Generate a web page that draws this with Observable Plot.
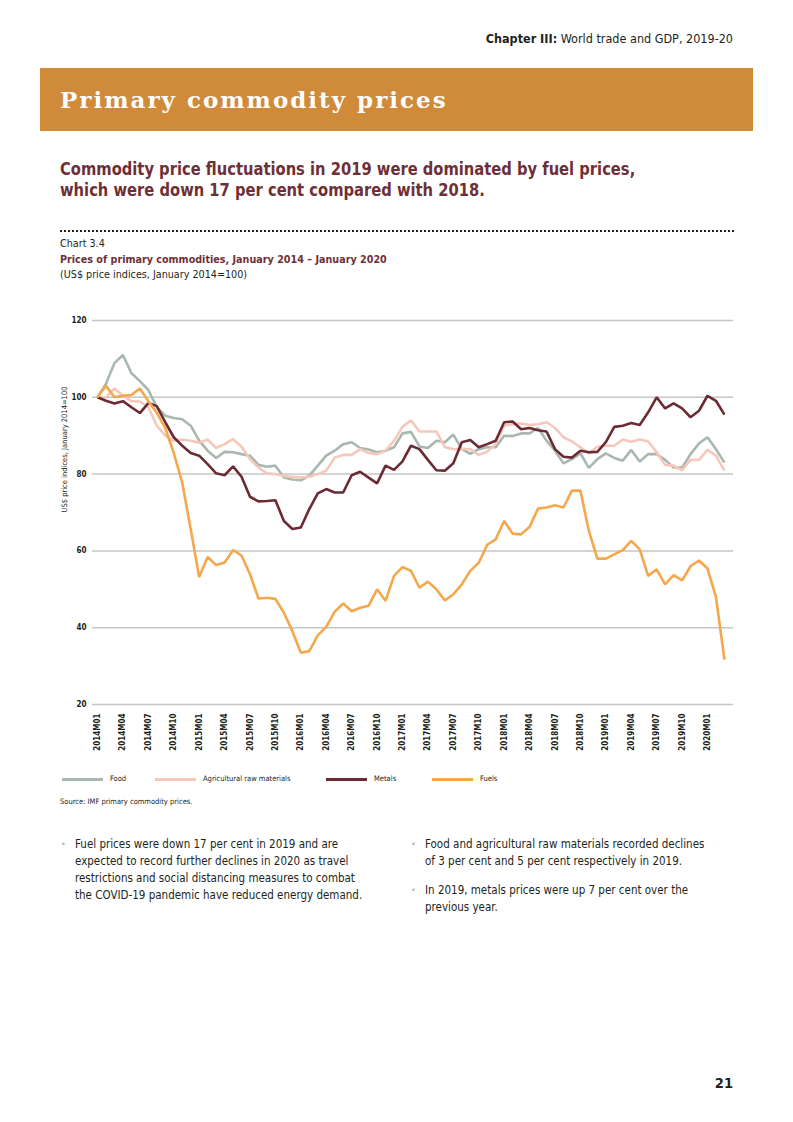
<!DOCTYPE html>
<html>
<head>
<meta charset="utf-8">
<script src="https://cdn.jsdelivr.net/npm/d3@7"></script>
<script src="https://cdn.jsdelivr.net/npm/@observablehq/plot@0.6"></script>
<style>
  body { margin: 0; background: #fff; }
  #page { position: relative; width: 793px; height: 1122px; overflow: hidden;
    font-family: "Liberation Sans Narrow", "DejaVu Sans Condensed", "Liberation Sans", sans-serif; color: #231f20; }
  .abs { position: absolute; white-space: nowrap; }
  #header { top: 31px; right: 60px; font-size: 12.5px; line-height: 16px; }
  #banner { left: 40px; top: 68px; width: 713px; height: 63px; background: #cf8a3a; }
  #banner span { position: absolute; left: 20px; top: 0; line-height: 63px; color: #fff;
    font-family: "DejaVu Serif", serif; font-weight: bold; font-size: 23px; letter-spacing: 2px; }
  #subtitle { left: 60px; top: 158px; font-size: 18.5px; line-height: 21px; font-weight: bold; color: #6e2f37;
    transform: scaleX(0.885); transform-origin: left top; }
  #dots { left: 60px; top: 230px; width: 674px; border-top: 2.5px dotted #231f20; }
  .ct { left: 60px; font-size: 10.7px; line-height: 15px; }
  #chartno { top: 236px; }
  #charttitle { top: 252px; font-weight: bold; color: #6e2f37; }
  #chartunit { top: 267px; }
  #chart { left: 40px; top: 300px; }
  #legend { left: 0; top: 772px; width: 793px; height: 14px; font-size: 7.5px; }
  .lg { position: absolute; top: 0; height: 14px; line-height: 14px; white-space: nowrap; }
  .sw { position: absolute; top: 5.5px; height: 3px; width: 41px; }
  #source { left: 60px; top: 796px; font-size: 7.5px; line-height: 12px; }
  .col { font-size: 11.5px; line-height: 17px; color: #231f20; }
  .col p { margin: 0 0 12px 0; position: relative; padding-left: 14px; }
  .col p::before { content: "•"; position: absolute; left: 0; top: 0; color: #b5b5b5; font-size: 9px; }
  #colL { left: 61px; top: 836px; }
  #colR { left: 411px; top: 836px; }
  #pagenum { right: 60px; top: 1074px; font-size: 14.5px; font-weight: bold; line-height: 18px; }
</style>
</head>
<body>
<div id="page">
  <div id="header" class="abs"><b>Chapter III:</b> World trade and GDP, 2019-20</div>
  <div id="banner" class="abs"><span>Primary commodity prices</span></div>
  <div id="subtitle" class="abs">Commodity price fluctuations in 2019 were dominated by fuel prices,<br>which were down 17 per cent compared with 2018.</div>
  <div id="dots" class="abs"></div>
  <div id="chartno" class="abs ct">Chart 3.4</div>
  <div id="charttitle" class="abs ct">Prices of primary commodities, January 2014 – January 2020</div>
  <div id="chartunit" class="abs ct">(US$ price indices, January 2014=100)</div>
  <div id="chart" class="abs"></div>
  <div id="legend" class="abs"></div>
  <div id="source" class="abs">Source: IMF primary commodity prices.</div>
  <div id="colL" class="abs col">
    <p>Fuel prices were down 17 per cent in 2019 and are<br>expected to record further declines in 2020 as travel<br>restrictions and social distancing measures to combat<br>the COVID-19 pandemic have reduced energy demand.</p>
  </div>
  <div id="colR" class="abs col">
    <p>Food and agricultural raw materials recorded declines<br>of 3 per cent and 5 per cent respectively in 2019.</p>
    <p>In 2019, metals prices were up 7 per cent over the<br>previous year.</p>
  </div>
  <div id="pagenum" class="abs">21</div>
</div>
<script>
// ---- Data (US$ price indices, January 2014 = 100), monthly 2014M01 – 2020M03 ----
const years = [2014, 2015, 2016, 2017, 2018, 2019, 2020];
const monthCodes = ["01","02","03","04","05","06","07","08","09","10","11","12"];
const months = [];
for (const y of years) for (const m of monthCodes) months.push(`${y}M${m}`);
months.length = 75; // through 2020M03

const tickLabels = ["2014M01","2014M04","2014M07","2014M10","2015M01","2015M04","2015M07","2015M10",
  "2016M01","2016M04","2016M07","2016M10","2017M01","2017M04","2017M07","2017M10",
  "2018M01","2018M04","2018M07","2018M10","2019M01","2019M04","2019M07","2019M10","2020M01"];
const yTicks = [20, 40, 60, 80, 100, 120];

const seriesNames = ["Food", "Agricultural raw materials", "Metals", "Fuels"];
const seriesColors = ["#a8b8af", "#f5c8ba", "#6c2b34", "#f5a74c"];

const food = [100, 103.5, 108.9, 111, 106.3, 104.2, 101.9, 97.4, 95.2, 94.6, 94.3, 92.6, 88.7, 86.1, 84.2, 85.8, 85.7, 85.2, 84.8, 82.4, 81.9, 82.2, 79.1, 78.6, 78.4, 79.6,
  82.2, 84.8, 86.1, 87.8, 88.3, 86.8, 86.4, 85.7, 86.1, 87, 90.6, 91, 87.2, 86.8, 88.7, 88.3, 90.3, 86.5, 85.3, 86.5, 87, 87, 90, 89.9, 90.6,
  90.6, 92, 88.7, 86.1, 82.8, 83.9, 85.4, 81.6, 83.9, 85.4, 84.2, 83.5, 86.3, 83.3, 85.2, 85.2, 83.7, 81.7, 81.7, 85.2, 88, 89.6, 86.5, 83];
const agri = [100, 100, 102.3, 100.4, 99, 98.9, 97.4, 92.6, 90, 88.7, 89, 88.7, 88.2, 89, 86.8, 87.8, 89.1, 87.1, 83.9, 81.7, 80.2, 80, 79.5, 79.3, 79.1, 79.3,
  80, 80.9, 84.3, 85, 85, 86.5, 85.5, 85.2, 86.1, 88.7, 92.3, 94, 91.1, 91.1, 91.1, 87, 86.5, 86.5, 86.5, 85, 85.8, 87.8, 92.6, 93, 93.2,
  92.8, 93, 93.5, 92, 89.6, 88.5, 87, 85.4, 87.1, 87.4, 87.4, 89, 88.4, 89, 88.5, 85.7, 82.4, 82.2, 81, 83.7, 83.7, 86.3, 84.8, 80.9];
const metals = [100, 99.1, 98.4, 99, 97.4, 95.9, 98.5, 97.7, 93.5, 89.6, 87.4, 85.5, 84.8, 82.6, 80.2, 79.7, 82, 79.3, 74.1, 72.9, 73, 73.2, 67.8, 65.7, 66.1, 70.9,
  75, 76.1, 75.2, 75.2, 79.7, 80.6, 79.1, 77.6, 82.2, 81.1, 83.3, 87.4, 86.5, 83.7, 81, 80.9, 82.8, 88.3, 88.9, 87, 87.8, 88.7, 93.5, 93.7, 91.7,
  92, 91.4, 91.1, 86.5, 84.5, 84.3, 86.1, 85.7, 85.8, 88.3, 92.3, 92.6, 93.3, 92.8, 96.1, 100, 97.1, 98.4, 97.1, 94.8, 96.5, 100.4, 99.1, 95.5];
const fuels = [100, 103, 100, 100.4, 100.6, 102.3, 99, 96, 92, 85.5, 77.8, 65.7, 53.2, 58.4, 56.3, 57, 60.2, 58.8, 53.9, 47.6, 47.8, 47.5, 43.9, 39.1, 33.5, 33.9,
  38, 40.2, 44.2, 46.3, 44.3, 45.2, 45.7, 50, 47, 53.5, 55.8, 54.8, 50.4, 52, 50, 47.1, 48.7, 51.3, 54.8, 56.9, 61.6, 63, 67.8, 64.5, 64.3,
  66.3, 71, 71.3, 71.9, 71.3, 75.7, 75.7, 65.2, 58, 58, 59.1, 60.2, 62.6, 60.4, 53.5, 55.2, 51.3, 53.7, 52.3, 56, 57.5, 55.4, 48, 31.7];

const seriesValues = [food, agri, metals, fuels];
const rows = [];
seriesNames.forEach((name, k) => {
  seriesValues[k].forEach((v, i) => rows.push({ series: name, month: months[i], i, value: v }));
});
const tickIdx = tickLabels.map(t => months.indexOf(t));

const font = '"Liberation Sans Narrow", "DejaVu Sans Condensed", "Liberation Sans", sans-serif';

const chart = Plot.plot({
  width: 710,
  height: 460,
  marginLeft: 52,
  marginRight: 17,
  marginTop: 20,
  marginBottom: 56,
  style: { fontFamily: font, fontSize: "8px", color: "#231f20", background: "transparent", overflow: "visible" },
  x: { type: "linear", domain: [-0.59, 75.07] },
  y: { domain: [20, 120] },
  color: { domain: seriesNames, range: seriesColors },
  marks: [
    Plot.ruleY(yTicks, { stroke: "#c6c6c6", strokeWidth: 1.5 }),
    Plot.axisY({ ticks: yTicks, tickSize: 0, tickPadding: 6, label: null, fontWeight: "bold" }),
    Plot.axisX({ ticks: tickIdx, tickFormat: i => months[i], tickRotate: -90, tickSize: 0, tickPadding: 9, label: null, fontWeight: "bold" }),
    Plot.text(["US$ price indices, January 2014=100"], { frameAnchor: "left", rotate: -90, dx: -28, fontSize: 7.5, fill: "#231f20" }),
    Plot.lineY(rows, { x: "i", y: "value", z: "series", stroke: "series", strokeWidth: 2.6, strokeLinejoin: "miter", strokeLinecap: "butt" })
  ]
});
document.getElementById("chart").appendChild(chart);

// legend
const legendX = [62, 155, 326, 432];
const legend = document.getElementById("legend");
seriesNames.forEach((name, k) => {
  const item = document.createElement("div");
  item.className = "lg";
  item.style.left = legendX[k] + "px";
  const sw = document.createElement("div");
  sw.className = "sw";
  sw.style.background = seriesColors[k];
  item.appendChild(sw);
  const lab = document.createElement("span");
  lab.textContent = name;
  lab.style.marginLeft = "48px";
  item.appendChild(lab);
  legend.appendChild(item);
});
</script>
</body>
</html>
